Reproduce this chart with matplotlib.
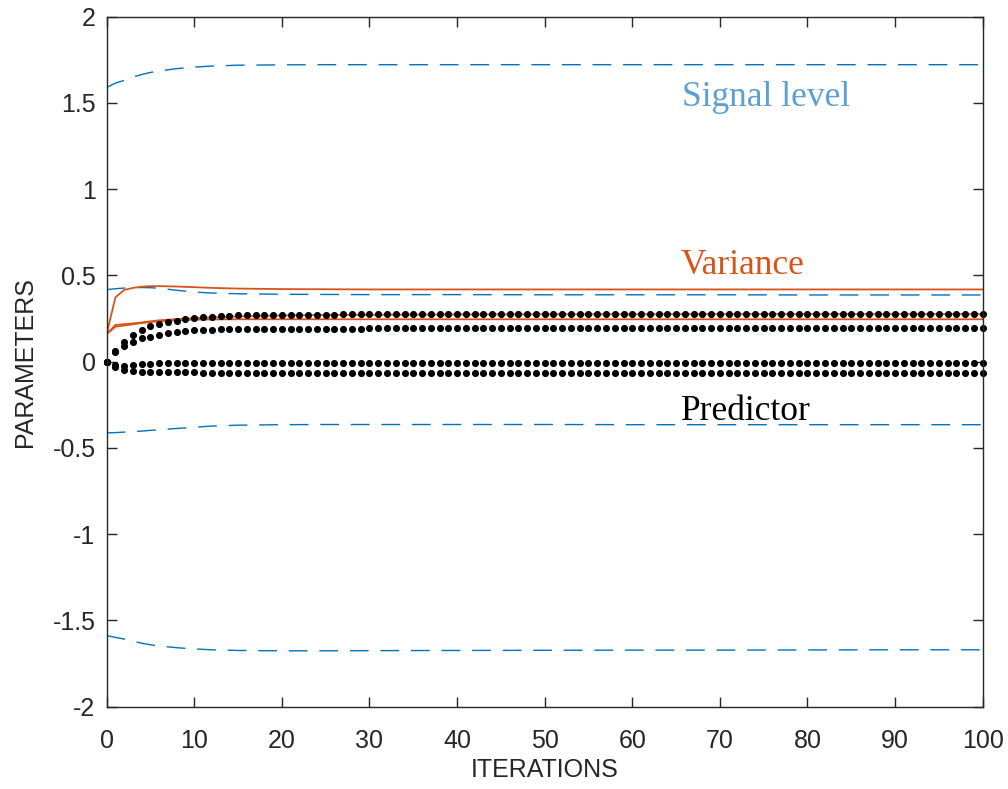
import matplotlib
matplotlib.use('Agg')
import matplotlib.pyplot as plt
from matplotlib.ticker import FormatStrFormatter

plt.rcParams['axes.unicode_minus'] = False
plt.rcParams['font.family'] = ['Liberation Sans', 'DejaVu Sans']

# iterations where the smooth curves were sampled
line_iter = [0, 1, 2, 3, 4, 5, 6, 8, 10, 12, 15, 20, 25, 30, 40, 50, 60, 70, 80, 90, 100]

# signal level bounds (blue dashed)
sig_hi = [1.590, 1.615, 1.631, 1.650, 1.665, 1.677, 1.686, 1.699, 1.708, 1.714, 1.719,
          1.721, 1.722, 1.722, 1.722, 1.722, 1.722, 1.722, 1.722, 1.722, 1.722]
sig_mid_hi = [0.418, 0.423, 0.427, 0.429, 0.430, 0.429, 0.426, 0.414, 0.404, 0.398, 0.394,
              0.391, 0.390, 0.389, 0.389, 0.388, 0.388, 0.388, 0.387, 0.387, 0.387]
sig_mid_lo = [-0.413, -0.411, -0.408, -0.405, -0.402, -0.398, -0.394, -0.387, -0.380, -0.373, -0.368,
              -0.365, -0.364, -0.364, -0.364, -0.364, -0.365, -0.365, -0.365, -0.365, -0.365]
sig_lo = [-1.588, -1.598, -1.608, -1.620, -1.632, -1.641, -1.648, -1.658, -1.665, -1.670, -1.674,
          -1.676, -1.676, -1.675, -1.674, -1.673, -1.672, -1.672, -1.671, -1.670, -1.670]

# variance estimates (orange)
var_1 = [0.160, 0.373, 0.416, 0.428, 0.435, 0.438, 0.438, 0.436, 0.432, 0.428, 0.424,
         0.421, 0.420, 0.419, 0.419, 0.419, 0.419, 0.419, 0.419, 0.419, 0.419]
var_2 = [0.160, 0.213, 0.218, 0.222, 0.228, 0.234, 0.240, 0.247, 0.252, 0.257, 0.263,
         0.268, 0.271, 0.272, 0.274, 0.275, 0.275, 0.276, 0.276, 0.276, 0.276]
var_3 = [0.160, 0.203, 0.210, 0.217, 0.224, 0.230, 0.235, 0.240, 0.244, 0.245, 0.246,
         0.246, 0.246, 0.246, 0.246, 0.246, 0.246, 0.246, 0.246, 0.246, 0.246]

# predictor coefficients, one value per iteration 0..100 (black dots)
iters = list(range(101))
pred_a = [0.000, 0.062, 0.117, 0.155, 0.184, 0.205, 0.219, 0.230, 0.238, 0.246,
          0.252, 0.257, 0.261, 0.264, 0.266, 0.268, 0.269, 0.270, 0.271, 0.271,
          0.272, 0.272, 0.272, 0.273, 0.273, 0.273, 0.273, 0.274, 0.274, 0.274,
          0.274, 0.274, 0.274, 0.274, 0.274, 0.274, 0.274, 0.274, 0.274, 0.274,
          0.274, 0.275, 0.275, 0.275, 0.275, 0.275, 0.275, 0.275, 0.275, 0.275,
          0.275, 0.275, 0.275, 0.275, 0.275, 0.275, 0.275, 0.275, 0.275, 0.275,
          0.275, 0.275, 0.275, 0.275, 0.275, 0.275, 0.275, 0.275, 0.275, 0.275,
          0.275, 0.276, 0.276, 0.276, 0.276, 0.276, 0.276, 0.276, 0.276, 0.276,
          0.276, 0.276, 0.276, 0.276, 0.276, 0.276, 0.276, 0.276, 0.276, 0.276,
          0.276, 0.277, 0.277, 0.277, 0.277, 0.277, 0.277, 0.277, 0.277, 0.277,
          0.277]
pred_b = [0.000, 0.055, 0.093, 0.117, 0.136, 0.146, 0.157, 0.166, 0.172, 0.178,
          0.182, 0.184, 0.186, 0.187, 0.188, 0.189, 0.189, 0.190, 0.190, 0.190,
          0.191, 0.191, 0.191, 0.191, 0.192, 0.192, 0.192, 0.192, 0.192, 0.192,
          0.193, 0.193, 0.193, 0.193, 0.193, 0.193, 0.193, 0.193, 0.193, 0.193,
          0.194, 0.194, 0.194, 0.194, 0.194, 0.194, 0.194, 0.194, 0.194, 0.194,
          0.195, 0.195, 0.195, 0.195, 0.195, 0.195, 0.195, 0.195, 0.195, 0.195,
          0.196, 0.196, 0.196, 0.196, 0.196, 0.196, 0.196, 0.196, 0.196, 0.196,
          0.197, 0.197, 0.197, 0.197, 0.197, 0.197, 0.197, 0.197, 0.197, 0.197,
          0.197, 0.197, 0.197, 0.197, 0.197, 0.197, 0.197, 0.197, 0.197, 0.197,
          0.198, 0.198, 0.198, 0.198, 0.198, 0.198, 0.198, 0.198, 0.198, 0.198,
          0.198]
pred_c = [0.000, -0.019, -0.025, -0.021, -0.013, -0.011, -0.010, -0.008, -0.008, -0.008,
          -0.006, -0.006, -0.006, -0.006, -0.006, -0.006, -0.006, -0.006, -0.006, -0.006,
          -0.006, -0.006, -0.006, -0.006, -0.006, -0.006, -0.006, -0.006, -0.006, -0.006,
          -0.007, -0.007, -0.007, -0.007, -0.007, -0.007, -0.007, -0.007, -0.007, -0.007,
          -0.007, -0.007, -0.007, -0.007, -0.007, -0.007, -0.007, -0.007, -0.007, -0.007,
          -0.008, -0.008, -0.008, -0.008, -0.008, -0.008, -0.008, -0.008, -0.008, -0.008,
          -0.008, -0.008, -0.008, -0.008, -0.008, -0.008, -0.008, -0.008, -0.008, -0.008,
          -0.009, -0.009, -0.009, -0.009, -0.009, -0.009, -0.009, -0.009, -0.009, -0.009,
          -0.009, -0.009, -0.009, -0.009, -0.009, -0.009, -0.009, -0.009, -0.009, -0.009,
          -0.010, -0.010, -0.010, -0.010, -0.010, -0.010, -0.010, -0.010, -0.010, -0.010,
          -0.010]
pred_d = [0.000, -0.033, -0.048, -0.052, -0.058, -0.058, -0.060, -0.062, -0.062, -0.062,
          -0.062, -0.064, -0.064, -0.064, -0.064, -0.064, -0.064, -0.064, -0.064, -0.064,
          -0.064, -0.064, -0.064, -0.064, -0.064, -0.064, -0.064, -0.064, -0.064, -0.064,
          -0.065, -0.065, -0.065, -0.065, -0.065, -0.065, -0.065, -0.065, -0.065, -0.065,
          -0.065, -0.065, -0.065, -0.065, -0.065, -0.065, -0.065, -0.065, -0.065, -0.065,
          -0.066, -0.066, -0.066, -0.066, -0.066, -0.066, -0.066, -0.066, -0.066, -0.066,
          -0.066, -0.066, -0.066, -0.066, -0.066, -0.066, -0.066, -0.066, -0.066, -0.066,
          -0.067, -0.067, -0.067, -0.067, -0.067, -0.067, -0.067, -0.067, -0.067, -0.067,
          -0.067, -0.067, -0.067, -0.067, -0.067, -0.067, -0.067, -0.067, -0.067, -0.067,
          -0.068, -0.068, -0.068, -0.068, -0.068, -0.068, -0.068, -0.068, -0.068, -0.068,
          -0.068]

blue = '#0072BD'
orange = '#D95319'

fig = plt.figure(figsize=(10.08, 7.89), dpi=100)
ax = fig.add_axes([0.1058, 0.1043, 0.8691, 0.8745])

for sig in (sig_hi, sig_mid_hi, sig_mid_lo, sig_lo):
    ax.plot(line_iter, sig, color=blue, linewidth=1.0, dashes=(13.5, 8.5))

for v in (var_1, var_2, var_3):
    ax.plot(line_iter, v, color=orange, linewidth=1.3)

for p in (pred_a, pred_b, pred_c, pred_d):
    ax.plot(iters, p, linestyle='none', marker='o', markersize=4.1,
            color='black', clip_on=False)

serif = ['Liberation Serif', 'DejaVu Serif']
ax.text(75.3, 1.53, 'Signal level', color='#5b9fd4', fontsize=25.5, family=serif,
        ha='center', va='center')
ax.text(72.6, 0.555, 'Variance', color=orange, fontsize=25.5, family=serif,
        ha='center', va='center')
ax.text(73.0, -0.29, 'Predictor', color='black', fontsize=25.5, family=serif,
        ha='center', va='center')

ax.set_xlim(0, 100)
ax.set_ylim(-2, 2)
ax.set_xticks(range(0, 101, 10))
ax.set_yticks([-2, -1.5, -1, -0.5, 0, 0.5, 1, 1.5, 2])
ax.yaxis.set_major_formatter(FormatStrFormatter('%g'))

ax.tick_params(direction='in', length=7, width=1.0, colors='#262626',
               labelsize=18, top=True, right=True)
ax.tick_params(axis='x', pad=16)
ax.tick_params(axis='y', pad=8)
for s in ax.spines.values():
    s.set_linewidth(1.0)
    s.set_color('#262626')

ax.set_xlabel('ITERATIONS', fontsize=18, color='#262626', labelpad=4)
ax.set_ylabel('PARAMETERS', fontsize=18, color='#262626', labelpad=11)

fig.savefig('out.png', dpi=100)
